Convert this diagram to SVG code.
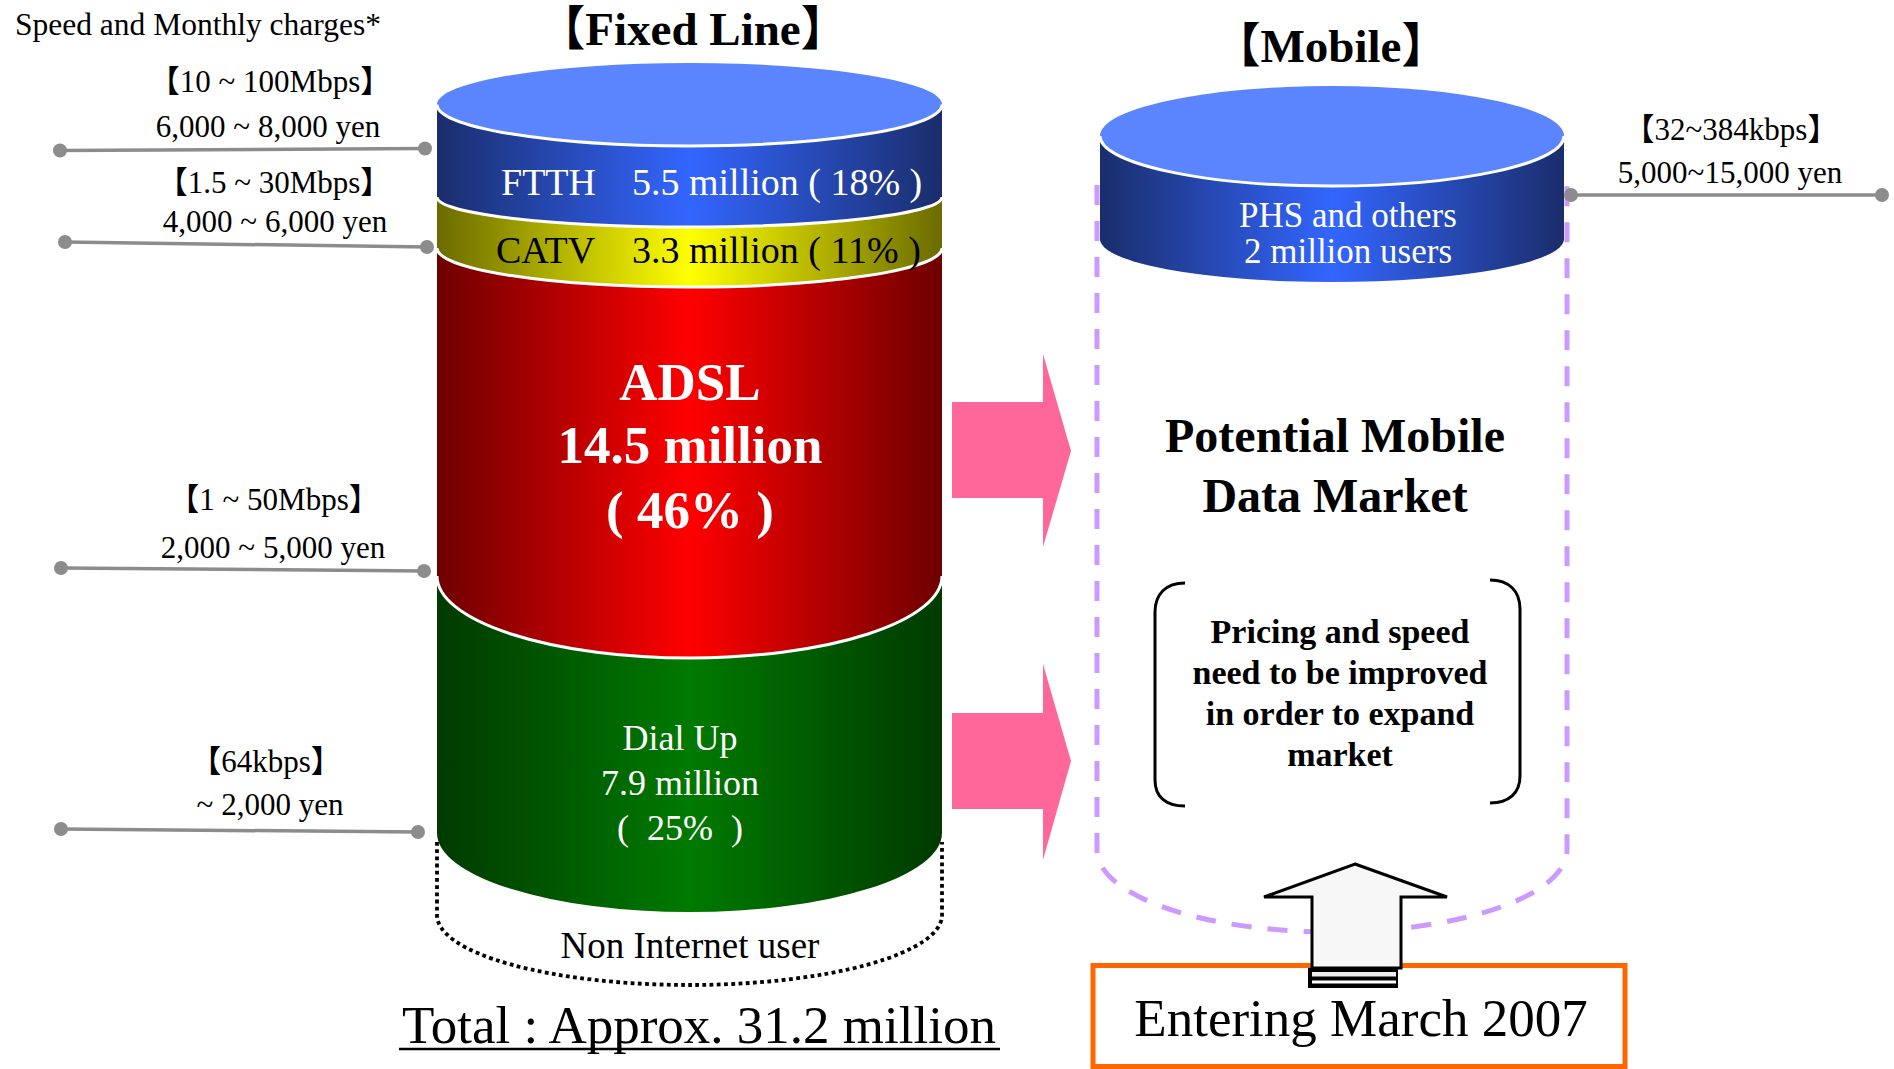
<svg xmlns="http://www.w3.org/2000/svg" width="1894" height="1069" viewBox="0 0 1894 1069">
<style>
  text { font-family: "Liberation Serif", "Noto Sans CJK JP", serif; }
  .lbl { font-size: 31px; fill: #000; text-anchor: middle; }
  .title { font-size: 47px; font-weight: bold; text-anchor: middle; }
  .sep { fill: none; stroke: #fff; stroke-width: 3; }
  .gline { stroke: #8C8C8C; stroke-width: 3.5; fill: none; }
  .gdot { fill: #8C8C8C; }
  .pink { fill: #FF6699; }
  .wt { fill: #fff; }
</style>
<defs>
  <linearGradient id="gBlue" x1="0" y1="0" x2="1" y2="0">
    <stop offset="0" stop-color="#1A2D6C"/>
    <stop offset="0.5" stop-color="#3366FF"/>
    <stop offset="1" stop-color="#1A2D6C"/>
  </linearGradient>
  <linearGradient id="gYellow" x1="0" y1="0" x2="1" y2="0">
    <stop offset="0" stop-color="#6B6B00"/>
    <stop offset="0.5" stop-color="#FFFF00"/>
    <stop offset="1" stop-color="#6B6B00"/>
  </linearGradient>
  <linearGradient id="gRed" x1="0" y1="0" x2="1" y2="0">
    <stop offset="0" stop-color="#6E0000"/>
    <stop offset="0.5" stop-color="#FF0000"/>
    <stop offset="1" stop-color="#6E0000"/>
  </linearGradient>
  <linearGradient id="gGreen" x1="0" y1="0" x2="1" y2="0">
    <stop offset="0" stop-color="#003A00"/>
    <stop offset="0.5" stop-color="#007A00"/>
    <stop offset="1" stop-color="#003A00"/>
  </linearGradient>
</defs>
<rect width="1894" height="1069" fill="#fff"/>

<!-- left header -->
<g id="header-left">
  <text x="15" y="35" font-size="31.5">Speed and Monthly charges*</text>
</g>

<!-- Potential mobile market outline (behind) -->
<g id="mobile-market">
  <path d="M1097,185 V850 A235,82 0 0 0 1567,850 V185" fill="none" stroke="#CC99FF" stroke-width="5" stroke-dasharray="20 16"/>
  <text x="1335" y="452" font-size="48" font-weight="bold" text-anchor="middle">Potential Mobile</text>
  <text x="1335" y="512" font-size="48" font-weight="bold" text-anchor="middle">Data Market</text>
</g>

<!-- Fixed line cylinder -->
<g id="fixed-line">
  <text class="title" x="693" y="45">【Fixed Line】</text>
  <path d="M437,842 V915 A252.5,70 0 0 0 942,915 V842" fill="none" stroke="#000" stroke-width="3.8" stroke-dasharray="3.8 3.4"/>
  <text x="690" y="958" font-size="37" text-anchor="middle">Non Internet user</text>
</g>

<g id="dialup">
  <path d="M437,576 V833 A252.5,79 0 0 0 942,833 V576 Z" fill="url(#gGreen)"/>
  <text class="wt" x="680" y="750" font-size="36" text-anchor="middle">Dial Up</text>
  <text class="wt" x="680" y="795" font-size="36" text-anchor="middle">7.9 million</text>
  <text class="wt" x="680" y="840" font-size="36" text-anchor="middle" xml:space="preserve">(  25%  )</text>
</g>

<g id="adsl">
  <path d="M437,248 V576 A252.5,82 0 0 0 942,576 V248 Z" fill="url(#gRed)"/>
  <path class="sep" d="M437,576 A252.5,82 0 0 0 942,576"/>
  <text class="wt" x="690" y="400" font-size="53" font-weight="bold" text-anchor="middle">ADSL</text>
  <text class="wt" x="690" y="463" font-size="53" font-weight="bold" text-anchor="middle">14.5 million</text>
  <text class="wt" x="690" y="528" font-size="53" font-weight="bold" text-anchor="middle">( 46% )</text>
</g>

<g id="catv">
  <path d="M437,197 V248 A252.5,39 0 0 0 942,248 V197 Z" fill="url(#gYellow)"/>
  <path class="sep" d="M437,248 A252.5,39 0 0 0 942,248"/>
</g>

<g id="ftth">
  <path d="M437,104.5 V197 A252.5,30 0 0 0 942,197 V104.5 Z" fill="url(#gBlue)"/>
  <path class="sep" d="M437,197 A252.5,30 0 0 0 942,197"/>
  <ellipse cx="689.5" cy="104.5" rx="252.5" ry="41.5" fill="#5B84FF"/>
  <path class="sep" d="M437,104.5 A252.5,41.5 0 0 0 942,104.5"/>
  <text class="wt" x="501" y="195" font-size="38">FTTH</text>
  <text class="wt" x="632" y="195" font-size="38">5.5 million ( 18% )</text>
</g>

<g id="catv-label">
  <text x="496" y="263" font-size="38">CATV</text>
  <text x="632" y="263" font-size="38">3.3 million ( 11% )</text>
</g>

<!-- Mobile cylinder -->
<g id="mobile">
  <text class="title" x="1331" y="62" font-size="48">【Mobile】</text>
  <path d="M1100,136 V239 A232,43 0 0 0 1564,239 V136 Z" fill="url(#gBlue)"/>
  <ellipse cx="1332" cy="136" rx="232" ry="50" fill="#5B84FF"/>
  <path class="sep" d="M1100,136 A232,50 0 0 0 1564,136"/>
  <text class="wt" x="1348" y="227" font-size="35" text-anchor="middle">PHS and others</text>
  <text class="wt" x="1348" y="263" font-size="35" text-anchor="middle">2 million users</text>
</g>

<!-- Speed / price labels -->
<g id="price-ftth">
  <text class="lbl" x="270" y="92">【10 ~ 100Mbps】</text>
  <text class="lbl" x="268" y="137">6,000 ~ 8,000 yen</text>
</g>
<g id="price-catv">
  <text class="lbl" x="274" y="193">【1.5 ~ 30Mbps】</text>
  <text class="lbl" x="275" y="232">4,000 ~ 6,000 yen</text>
</g>
<g id="price-adsl">
  <text class="lbl" x="274" y="510">【1 ~ 50Mbps】</text>
  <text class="lbl" x="273" y="558">2,000 ~ 5,000 yen</text>
</g>
<g id="price-dialup">
  <text class="lbl" x="266" y="772">【64kbps】</text>
  <text class="lbl" x="270" y="815">~ 2,000 yen</text>
</g>
<g id="price-mobile">
  <text class="lbl" x="1731" y="140" font-size="32">【32~384kbps】</text>
  <text class="lbl" x="1730" y="183" font-size="32">5,000~15,000 yen</text>
</g>

<!-- Note box -->
<g id="note">
  <path d="M1185,583 C1166,583 1155,594 1155,612 V780 C1155,797 1166,806 1185,806" fill="none" stroke="#000" stroke-width="3"/>
  <path d="M1490,580 C1509,580 1520,591 1520,609 V776 C1520,793 1509,803 1490,803" fill="none" stroke="#000" stroke-width="3"/>
  <text x="1340" y="643" font-size="34" font-weight="bold" text-anchor="middle">Pricing and speed</text>
  <text x="1340" y="684" font-size="34" font-weight="bold" text-anchor="middle">need to be improved</text>
  <text x="1340" y="725" font-size="34" font-weight="bold" text-anchor="middle">in order to expand</text>
  <text x="1340" y="766" font-size="34" font-weight="bold" text-anchor="middle">market</text>
</g>

<!-- Entering box -->
<g id="entering">
  <rect x="1093" y="965.5" width="532" height="101" fill="none" stroke="#FF6600" stroke-width="5"/>
  <text x="1361" y="1036" font-size="53" text-anchor="middle">Entering March 2007</text>
</g>

<!-- Total -->
<g id="total">
  <text x="699" y="1043" font-size="53" text-anchor="middle">Total : Approx. 31.2 million</text>
  <line x1="399" y1="1049" x2="1000" y2="1049" stroke="#000" stroke-width="2.5"/>
</g>

<!-- Connectors -->
<g id="connectors">
  <line class="gline" x1="60" y1="150.5" x2="425" y2="148.5"/>
  <circle class="gdot" cx="60" cy="150.5" r="7"/><circle class="gdot" cx="425" cy="148.5" r="7"/>
  <line class="gline" x1="65" y1="242" x2="427" y2="247"/>
  <circle class="gdot" cx="65" cy="242" r="7"/><circle class="gdot" cx="427" cy="247" r="7"/>
  <line class="gline" x1="61" y1="568" x2="424" y2="571"/>
  <circle class="gdot" cx="61" cy="568" r="7"/><circle class="gdot" cx="424" cy="571" r="7"/>
  <line class="gline" x1="61" y1="829" x2="418" y2="832"/>
  <circle class="gdot" cx="61" cy="829" r="7"/><circle class="gdot" cx="418" cy="832" r="7"/>
  <line class="gline" x1="1571" y1="195" x2="1882" y2="195"/>
  <circle class="gdot" cx="1571" cy="195" r="7"/><circle class="gdot" cx="1882" cy="195" r="7"/>

  <path class="pink" d="M952,402 H1043 V354 L1071,451 L1043,547 V498 H952 Z"/>
  <path class="pink" d="M952,713 H1043 V664 L1071,761 L1043,860 V809 H952 Z"/>

  <path d="M1355,864 L1447,897 H1401 V968 H1312 V897 H1264 Z" fill="#F7F7F7" stroke="#000" stroke-width="3" stroke-linejoin="miter"/>
  <rect x="1308" y="968" width="90" height="20" fill="#000"/>
  <rect x="1312" y="972" width="84" height="4.5" fill="#EEEEEE"/>
  <rect x="1312" y="980.5" width="84" height="3" fill="#FFFFFF"/>
</g>
</svg>
